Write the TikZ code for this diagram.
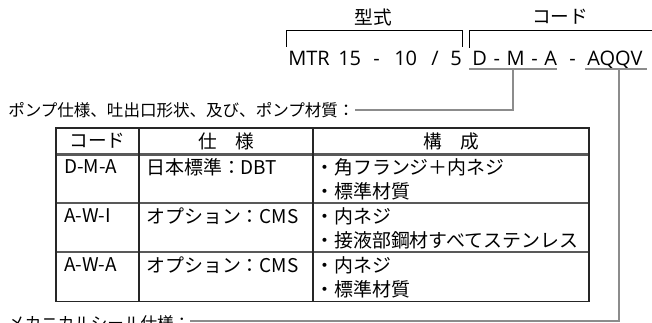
\documentclass[tikz,border=0pt]{standalone}
\usepackage{fontspec}
\setmainfont{Noto Sans CJK JP}
\newfontfamily\modelfont{Open Sans}
\usetikzlibrary{positioning}
\definecolor{leadgray}{gray}{0.55}
\definecolor{rulegray}{gray}{0.35}
\tikzset{note/.style={inner sep=0pt, anchor=west, font=\fontsize{12.4}{14}\selectfont},
         cell/.style={inner sep=0pt, anchor=west, font=\fontsize{14.2}{16}\selectfont},
         head/.style={inner sep=0pt, font=\fontsize{14}{16}\selectfont},
         model/.style={inner sep=0pt, anchor=base west, font=\modelfont\fontsize{15}{18}\selectfont},
         lead/.style={draw=leadgray, line width=0.8pt},
         bracket/.style={draw=black, line width=0.6pt}}

\begin{document}
\begin{tikzpicture}[x=0.75pt,y=-0.75pt]
    \useasboundingbox (0,0) rectangle (652,323);
    \clip (0,0) rectangle (652,323);

    % model string and its two groups
    \node[head] (kata) at (373,17) {型式};
    \node[head] (kode) at (560,17) {コード};
    \draw[bracket] (286,47) |- (462,30) -- (462,47);
    \draw[bracket] (469,48) |- (652,30);

    \foreach \x/\t [count=\i] in {288/MTR,338/15,373/-,394/10,431/\slash,450/5}
        \node[model] (mtr\i) at (\x,66) {\t};
    \node[model] (dma) at (472,66) {\spaceskip=5pt D - M - A};
    \node[model] (dash) at (569,66) {-};
    \node[model] (aqqv) at (587,66) {AQQV};
    \draw[lead] (469,69) -- (557,69);
    \draw[lead] (585,69) -- (647,69);
    \coordinate (pumptop) at (513,69);
    \coordinate (sealtop) at (619,69);

    % lead-out texts
    \node[note] (pump) at (8,110) {ポンプ仕様、吐出口形状、及び、ポンプ材質：};
    \node[note] (seal) at (8,323) {メカニカルシール仕様：};
    \draw[lead] (sealtop) |- ([yshift=1.5pt]seal.east);
    \draw[lead] (pumptop) |- (pump.east);

    % table
    \node[head] (hcode) at (97.4,141) {コード};
    \node[head] (hspec) at (226,141) {仕　様};
    \node[head] (hcomp) at (451,141) {構　成};
    \foreach \cd/\sp/\la/\lb [count=\r] in {D-M-A/日本標準：DBT/角フランジ＋内ネジ/標準材質,
                                            A-W-I/オプション：CMS/内ネジ/接液部鋼材すべてステンレス,
                                            A-W-A/オプション：CMS/内ネジ/標準材質}{
        \pgfmathsetmacro\yc{154.5+49*(\r-0.5)}
        \node[cell] (code\r) at (64,\yc-12) {\cd};
        \node[cell] (spec\r) at (146,\yc-12) {\sp};
        \node[cell] (compa\r) at (315,\yc-12) {・\la};
        \node[cell] (compb\r) at (315,\yc+12.5) {・\lb};
        }
    \foreach \y in {203,252}
        \draw[rulegray, line width=1.1pt] (55.7,\y) -- (589,\y);
    \draw[rulegray, line width=1.6pt] (55.7,154.5) -- (589,154.5);
    \draw[black!85, line width=0.9pt] (139,128) -- (139,301.5) (313,128) -- (313,301.5);
    \draw[black!85, line width=1.4pt] (55.7,128) rectangle (589,301.5);
\end{tikzpicture}
\end{document}
